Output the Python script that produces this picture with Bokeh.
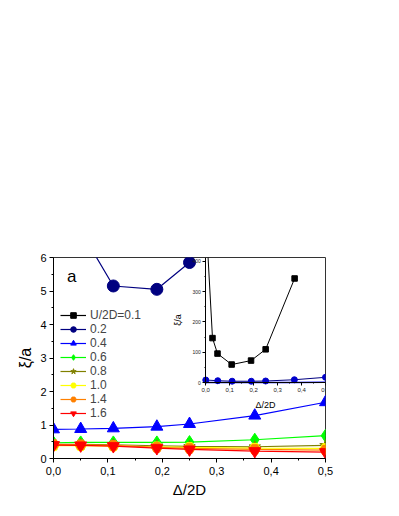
from bokeh.plotting import figure
from bokeh.models import (LinearAxis, Range1d, CustomJSTickFormatter, FixedTicker,
                          Legend, LegendItem, Label)
from bokeh.embed import file_html
from bokeh.resources import INLINE

# ---- data ----
x_main = [0, 0.05, 0.11, 0.19, 0.25, 0.37, 0.5]
x_u01 = [0, 0.028, 0.049, 0.108, 0.189, 0.25, 0.371]
u01 = [550, 147, 96, 60, 73, 110, 343]
u02 = [9, 6.8, 5.15, 5.05, 5.85, 10, 18]
u04 = [0.87, 0.88, 0.90, 0.95, 1.03, 1.28, 1.68]
u06 = [0.47, 0.48, 0.48, 0.48, 0.49, 0.56, 0.68]
u08 = [0.42, 0.42, 0.41, 0.38, 0.36, 0.35, 0.39]
u10 = [0.38, 0.38, 0.37, 0.35, 0.33, 0.31, 0.30]
u14 = [0.42, 0.41, 0.39, 0.33, 0.30, 0.27, 0.25]
u16 = [0.40, 0.39, 0.37, 0.31, 0.27, 0.22, 0.19]

labels = ["U/2D=0.1", "0.2", "0.4", "0.6", "0.8", "1.0", "1.4", "1.6"]
colors = ["#000000", "#000080", "#0000FF", "#00FF00", "#808000", "#FFFF00", "#FF8000", "#FF0000"]
markers = ["square", "circle", "triangle", "diamond", "star", "hex", "hex", "inverted_triangle"]
sizes = [10, 12, 12, 13, 12, 11, 11, 12]

series = [(x_u01, u01), (x_main, u02), (x_main, u04), (x_main, u06),
          (x_main, u08), (x_main, u10), (x_main, u14), (x_main, u16)]

x_ticks = [0, 0.1, 0.2, 0.3, 0.4, 0.5]
x_minor = [0.05, 0.15, 0.25, 0.35, 0.45]
y_ticks = [0, 1, 2, 3, 4, 5, 6]
y_minor = [0.5, 1.5, 2.5, 3.5, 4.5, 5.5]
inset_y_ticks = [0, 100, 200, 300, 400]
inset_y_minor = [50, 150, 250, 350]

FONT = "Liberation Sans"
comma_fmt = CustomJSTickFormatter(code="return tick.toFixed(1).replace('.', ',');")

p = figure(width=383, height=500, x_range=Range1d(0, 0.5), y_range=Range1d(0, 6),
           output_backend="svg", toolbar_location=None,
           min_border_left=53, min_border_right=58, min_border_top=257, min_border_bottom=42)
p.grid.visible = False
p.outline_line_color = "#333333"
p.outline_line_width = 1
p.background_fill_color = "white"
p.border_fill_color = "white"

# main axes
p.xaxis.ticker = FixedTicker(ticks=x_ticks, minor_ticks=x_minor)
p.xaxis.formatter = comma_fmt
p.yaxis.ticker = FixedTicker(ticks=y_ticks, minor_ticks=y_minor)
for ax in (p.xaxis[0], p.yaxis[0]):
    ax.major_tick_in = 0
    ax.major_tick_out = 4
    ax.minor_tick_in = 0
    ax.minor_tick_out = 2
    ax.axis_line_color = "black"
    ax.major_tick_line_color = "black"
    ax.minor_tick_line_color = "black"
    ax.major_label_text_font = FONT
    ax.major_label_text_font_size = "11px"
    ax.major_label_text_color = "black"
    ax.axis_label_text_font = FONT
    ax.axis_label_text_font_style = "normal"
    ax.axis_label_text_color = "black"
p.xaxis.axis_label = "Δ/2D"
p.xaxis.axis_label_text_font_size = "15px"
p.xaxis.major_label_standoff = 4
p.xaxis.axis_label_standoff = 3
p.yaxis.axis_label = "ξ/a"
p.yaxis.axis_label_text_font_size = "16px"
p.yaxis.major_label_standoff = 3
p.yaxis.axis_label_standoff = 3

# main series
items = []
for (xs, ys), lab, col, mk, sz in zip(series, labels, colors, markers, sizes):
    lr = p.line(xs, ys, line_color=col, line_width=1.2)
    sr = p.scatter(xs, ys, marker=mk, size=sz, fill_color=col, line_color=col)
    items.append(LegendItem(label=lab, renderers=[lr, sr]))

legend = Legend(items=items, location=(7, 38), padding=0, margin=0, spacing=0,
                label_height=14, glyph_height=14, glyph_width=26, label_standoff=4,
                label_text_font=FONT, label_text_font_size="12px",
                border_line_color=None, background_fill_alpha=0)
p.add_layout(legend)

p.add_layout(Label(x=0.025, y=5.15, text="a", text_font=FONT, text_font_size="17px",
                   text_color="black"))

# ---- inset (mapped onto extra ranges) ----
p.extra_x_ranges = {"ix": Range1d(-0.636, 0.5)}
p.extra_y_ranges = {"iy": Range1d(-249, 412)}

p.line(x_u01, u01, line_color="black", line_width=1, x_range_name="ix", y_range_name="iy")
p.scatter(x_u01, u01, marker="square", size=5.5, color="black", x_range_name="ix", y_range_name="iy")
p.line(x_main, u04, line_color="#0000FF", line_width=1.5, x_range_name="ix", y_range_name="iy")
p.line(x_main, u02, line_color="#000080", line_width=1, x_range_name="ix", y_range_name="iy")
p.scatter(x_main, u02, marker="circle", size=6, color="#0000CC", x_range_name="ix", y_range_name="iy")

ixa = LinearAxis(x_range_name="ix", y_range_name="iy", fixed_location=0, bounds=(0, 0.5),
                 ticker=FixedTicker(ticks=x_ticks, minor_ticks=x_minor), formatter=comma_fmt,
                 axis_label="Δ/2D")
iya = LinearAxis(x_range_name="ix", y_range_name="iy", fixed_location=0, bounds=(0, 412),
                 ticker=FixedTicker(ticks=inset_y_ticks, minor_ticks=inset_y_minor),
                 axis_label="ξ/a")
for ax in (ixa, iya):
    ax.major_tick_in = 0
    ax.major_tick_out = 3
    ax.minor_tick_in = 0
    ax.minor_tick_out = 1
    ax.major_label_text_font = FONT
    ax.major_label_text_color = "#222222"
    ax.major_label_standoff = 2
    ax.axis_label_text_font = FONT
    ax.axis_label_text_font_style = "normal"
    ax.axis_label_text_font_size = "9px"
    ax.axis_label_text_color = "black"
ixa.major_label_text_font_size = "6px"
ixa.axis_label_standoff = 5
iya.major_label_text_font_size = "5px"
iya.axis_label_standoff = 6
p.add_layout(ixa, "below")
p.add_layout(iya, "left")

open("out.html", "w").write(file_html(p, INLINE))
